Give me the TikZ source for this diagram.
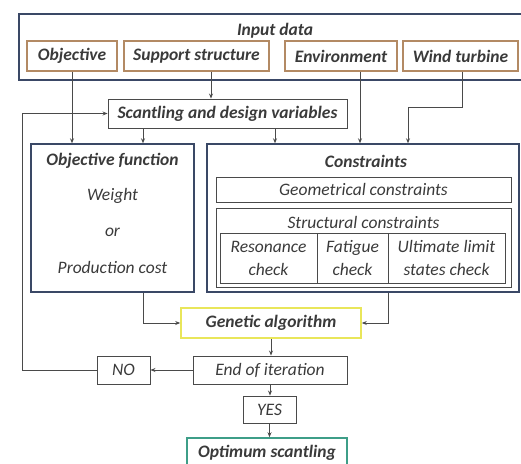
\documentclass[tikz,border=0pt]{standalone}
\usepackage{fontspec}
\setmainfont{Carlito}
\usetikzlibrary{positioning,arrows.meta,calc}
\definecolor{ink}{HTML}{3A3A3A}
\definecolor{linec}{HTML}{4A4A4A}
\definecolor{navy}{HTML}{3A4866}
\definecolor{tan}{HTML}{B38A64}
\definecolor{lemon}{HTML}{E9E65A}
\definecolor{teal}{HTML}{3E9E88}
\tikzset{
  box/.style={draw=linec, line width=0.9pt, inner sep=1pt, text=ink, font=\fontsize{17.5}{23}\selectfont\itshape, align=center},
  bbox/.style={box, font=\fontsize{17.5}{23}\selectfont\bfseries\itshape},
  inbox/.style={bbox, draw=tan, line width=1.4pt, minimum height=30},
  frame/.style={draw=navy, line width=1.4pt},
  lab/.style={text=ink, font=\fontsize{17.5}{23}\selectfont\itshape, inner sep=1pt},
  blab/.style={lab, font=\fontsize{17.5}{23}\selectfont\bfseries\itshape},
  flow/.style={-{Stealth[length=5pt,width=4pt]}, draw=linec, line width=0.8pt},
}
\begin{document}
\begin{tikzpicture}[x=1pt, y=-1pt]
    \useasboundingbox (0,0) rectangle (521,463);
    % input data
    \node[frame, minimum width=508, minimum height=66] (inp) at (273,47) {};
    \node[blab] (inptitle) at (275,31) {Input data};
    \node[inbox, minimum width=90]  (obj)  at (72,56)    {Objective};
    \node[inbox, minimum width=145] (supp) at (196.5,56) {Support structure};
    \node[inbox, minimum width=112] (env)  at (341,56)   {Environment};
    \node[inbox, minimum width=115] (wind) at (460.5,56) {Wind turbine};
    % design variables
    \node[bbox, minimum width=239, minimum height=29] (scant) at (227.5,113.5) {Scantling and design variables};
    \coordinate (fb) at (22,0);
    % objective function
    \node[frame, minimum width=163, minimum height=148] (objf) at (112.5,218) {};
    \node[blab] (objft) at (112.5,161) {Objective function};
    \node[lab] (wgt) at (112.5,196) {Weight};
    \node[lab] (orw) at (112.5,232) {or};
    \node[lab] (cost) at (112.5,267) {Production cost};
    % constraints
    \node[frame, minimum width=312, minimum height=148] (cons) at (363,218) {};
    \node[blab] (const) at (366,161) {Constraints};
    \node[box, minimum width=295, minimum height=25] (geo) at (363.5,189.5) {Geometrical constraints};
    \node[box, minimum width=295, minimum height=79] (struct) at (363.5,247.5) {};
    \node[lab] (structt) at (363.5,222) {Structural constraints};
    \node[box, minimum width=97,  minimum height=50] (res) at (268.5,258) {Resonance\\check};
    \node[box, minimum width=71,  minimum height=50] (fat) at (352.5,258) {Fatigue\\check};
    \node[box, minimum width=117, minimum height=50] (ult) at (446.5,258) {Ultimate limit\\states check};
    % loop
    \node[bbox, draw=lemon, line width=1.6pt, minimum width=180, minimum height=30] (ga) at (271,323) {Genetic algorithm};
    \node[box, minimum width=154, minimum height=28] (endit) at (270,370) {End of iteration};
    \node[box, minimum width=53, minimum height=28] (no) at (123.5,370) {NO};
    \node[box, minimum width=53, minimum height=27] (yes) at (269.5,409.5) {YES};
    \node[bbox, draw=teal, line width=1.6pt, minimum width=160, minimum height=30] (opt) at (267,453) {Optimum scantling};
    % flows
    \draw[flow] (obj.south) -- (obj.south |- objf.north);
    \draw[flow] ([xshift=14.5]supp.south) -- ([xshift=14.5]supp.south |- scant.north);
    \draw[flow] ([xshift=-84.5]scant.south) -- ([xshift=-84.5]scant.south |- objf.north);
    \draw[flow] ([xshift=47.5]scant.south) -- ([xshift=47.5]scant.south |- cons.north);
    \draw[flow] ([xshift=19]env.south) -- ([xshift=19]env.south |- cons.north);
    \draw[flow] ([xshift=1.5]wind.south) -- ++(0,36) -| ([xshift=45]cons.north);
    \draw[flow] ([xshift=30.5]objf.south) |- (ga.west);
    \draw[flow] ([xshift=25]cons.south) |- (ga.east);
    \draw[flow] (ga.south) -- (ga.south |- endit.north);
    \draw[flow] (endit.west) -- (no.east);
    \draw[flow] (no.west) -- (no.west -| fb) |- (scant.west);
    \draw[flow] (endit.south) -- (endit.south |- yes.north);
    \draw[flow] (yes.south) -- (yes.south |- opt.north);
\end{tikzpicture}
\end{document}
